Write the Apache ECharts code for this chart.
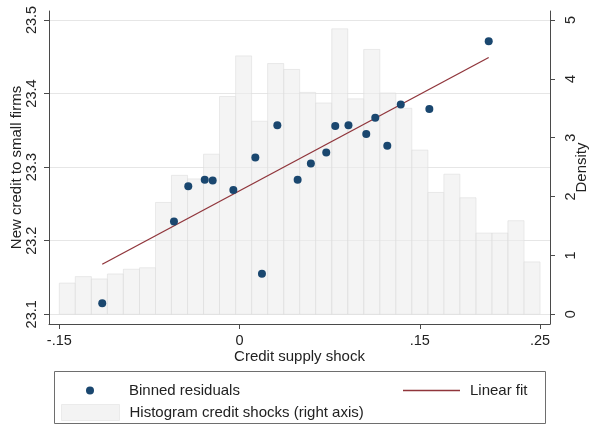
<!DOCTYPE html>
<html>
<head>
<meta charset="utf-8">
<script src="https://cdn.jsdelivr.net/npm/echarts@6/dist/echarts.min.js"></script>
<style>
  html, body { margin: 0; padding: 0; background: #fff; }
  #chart { width: 590px; height: 428px; }
</style>
</head>
<body>
<div id="chart"></div>
<script>
// Binned residuals: credit supply shock (x) vs new credit to small firms (y)
const binnedX = [-0.1143, -0.0546, -0.0427, -0.0290, -0.0224, -0.0052, 0.0131, 0.0186, 0.0314, 0.0483,
                 0.0593, 0.0721, 0.0796, 0.0906, 0.1054, 0.1129, 0.1229, 0.1341, 0.1579, 0.2073];
const binnedY = [23.115, 23.226, 23.274, 23.283, 23.282, 23.269, 23.313, 23.155, 23.357, 23.283,
                 23.305, 23.320, 23.356, 23.357, 23.345, 23.367, 23.329, 23.385, 23.379, 23.471];

// Linear fit endpoints
const fitX = [-0.1143, 0.2073];
const fitY = [23.168, 23.449];

// Histogram of credit shocks (density, right axis): bin edges and heights
const histEdges = [-0.15, -0.1367, -0.1233, -0.11, -0.0967, -0.0833, -0.07, -0.0567, -0.0433, -0.03,
                   -0.0167, -0.0033, 0.01, 0.0233, 0.0367, 0.05, 0.0633, 0.0767, 0.09, 0.1033,
                   0.1167, 0.13, 0.1433, 0.1567, 0.17, 0.1833, 0.1967, 0.21, 0.2233, 0.2367, 0.25];
const histDensity = [0.53, 0.64, 0.60, 0.685, 0.765, 0.79, 1.90, 2.36, 2.30, 2.72,
                     3.70, 4.39, 3.28, 4.26, 4.16, 3.77, 3.59, 4.85, 3.66, 4.50,
                     3.76, 3.50, 2.79, 2.07, 2.38, 1.98, 1.38, 1.38, 1.59, 0.89];

// Axis ticks and labels
const xTickValues = [-0.15, 0, 0.15, 0.25];
const xTickLabels = ['-.15', '0', '.15', '.25'];
const yLeftTicks = [23.1, 23.2, 23.3, 23.4, 23.5];
const yRightTicks = [0, 1, 2, 3, 4, 5];

const FONT = "'Liberation Sans', Arial, Helvetica, sans-serif";
const AXIS_COLOR = '#4a4a4a';
const TEXT_COLOR = '#222';
const NAVY = '#1a476f';
const MAROON = '#90353b';

const histData = histDensity.map((d, i) => [histEdges[i], histEdges[i + 1], d]);
const scatterData = binnedX.map((x, i) => [x, binnedY[i]]);
const fitData = fitX.map((x, i) => [x, fitY[i]]);

const chart = echarts.init(document.getElementById('chart'), null, { renderer: 'canvas' });

const labelStyle = { color: TEXT_COLOR, fontFamily: FONT, fontSize: 14.5 };
const nameStyle = { color: TEXT_COLOR, fontFamily: FONT, fontSize: 15 };

chart.setOption({
  animation: false,
  backgroundColor: '#fff',
  textStyle: { fontFamily: FONT },
  grid: { left: 49, right: 40, top: 11, bottom: 104, containLabel: false, outerBoundsMode: 'none' },
  xAxis: {
    type: 'value',
    min: -0.1586,
    max: 0.2583,
    name: 'Credit supply shock',
    nameLocation: 'middle',
    nameGap: 25,
    nameMoveOverlap: false,
    nameTextStyle: nameStyle,
    axisLine: { show: true, onZero: false, lineStyle: { color: AXIS_COLOR, width: 1 } },
    axisTick: { show: true, length: 5, customValues: xTickValues, lineStyle: { color: AXIS_COLOR } },
    axisLabel: {
      customValues: xTickValues,
      margin: 9,
      ...labelStyle,
      formatter: v => {
        const i = xTickValues.findIndex(t => Math.abs(t - v) < 1e-9);
        return i >= 0 ? xTickLabels[i] : '';
      }
    },
    splitLine: { show: false }
  },
  yAxis: [
    {
      type: 'value',
      position: 'left',
      min: 23.0868,
      max: 23.5122,
      name: 'New credit to small firms',
      nameLocation: 'middle',
      nameGap: 25,
      nameMoveOverlap: false,
      nameRotate: 90,
      nameTextStyle: nameStyle,
      axisLine: { show: true, onZero: false, lineStyle: { color: AXIS_COLOR, width: 1 } },
      axisTick: { show: true, length: 5, customValues: yLeftTicks, lineStyle: { color: AXIS_COLOR } },
      axisLabel: {
        customValues: yLeftTicks,
        rotate: 90,
        margin: 10,
        ...labelStyle,
        formatter: v => v.toFixed(1)
      },
      splitLine: { show: true, lineStyle: { color: '#e6e6e6', width: 1 } }
    },
    {
      type: 'value',
      position: 'right',
      min: -0.165,
      max: 5.153,
      name: 'Density',
      nameLocation: 'middle',
      nameGap: 24,
      nameMoveOverlap: false,
      nameRotate: 90,
      nameTextStyle: nameStyle,
      axisLine: { show: true, onZero: false, lineStyle: { color: AXIS_COLOR, width: 1 } },
      axisTick: { show: true, length: 5, customValues: yRightTicks, lineStyle: { color: AXIS_COLOR } },
      axisLabel: {
        customValues: yRightTicks,
        rotate: 90,
        margin: 13,
        ...labelStyle,
        formatter: v => String(v)
      },
      splitLine: { show: false }
    }
  ],
  legend: [
    {
      data: [{ name: 'Binned residuals', icon: 'circle' }],
      left: 81, top: 378,
      itemWidth: 8, itemHeight: 8,
      selectedMode: false,
      textStyle: { ...nameStyle, padding: [0, 0, 0, 30] }
    },
    {
      data: [{
        name: 'Linear fit',
        icon: 'rect',
        itemStyle: { color: MAROON, borderWidth: 0 }
      }],
      left: 398, top: 378,
      itemWidth: 57, itemHeight: 1.4,
      selectedMode: false,
      textStyle: { ...nameStyle, padding: [0, 0, 0, 5] }
    },
    {
      data: [{
        name: 'Histogram credit shocks (right axis)',
        icon: 'rect',
        itemStyle: { color: '#f3f3f3', borderColor: '#ebebeb', borderWidth: 1, opacity: 1 }
      }],
      left: 56, top: 399,
      itemWidth: 58, itemHeight: 16,
      selectedMode: false,
      textStyle: { ...nameStyle, padding: [0, 0, 0, 5] }
    }
  ],
  graphic: [
    {
      type: 'rect',
      shape: { x: 54.5, y: 371.5, width: 491, height: 52 },
      style: { fill: 'none', stroke: '#6e6e6e', lineWidth: 1 },
      silent: true
    }
  ],
  series: [
    {
      name: 'Histogram credit shocks (right axis)',
      type: 'custom',
      xAxisIndex: 0,
      yAxisIndex: 1,
      z: 1,
      data: histData,
      encode: { x: [0, 1], y: 2 },
      itemStyle: { color: '#f3f3f3', borderColor: '#ebebeb' },
      renderItem: (params, api) => {
        const p0 = api.coord([api.value(0), api.value(2)]);
        const p1 = api.coord([api.value(1), 0]);
        return {
          type: 'rect',
          shape: { x: p0[0], y: p0[1], width: p1[0] - p0[0], height: p1[1] - p0[1] },
          style: { fill: '#ececec', stroke: '#dedede', lineWidth: 1, opacity: 0.6 }
        };
      }
    },
    {
      name: 'Linear fit',
      type: 'line',
      yAxisIndex: 0,
      z: 3,
      data: fitData,
      symbol: 'none',
      lineStyle: { color: MAROON, width: 1.3 },
      itemStyle: { color: MAROON }
    },
    {
      name: 'Binned residuals',
      type: 'scatter',
      yAxisIndex: 0,
      z: 4,
      data: scatterData,
      symbol: 'circle',
      symbolSize: 8,
      itemStyle: { color: NAVY, opacity: 1 }
    }
  ]
});
</script>
</body>
</html>
